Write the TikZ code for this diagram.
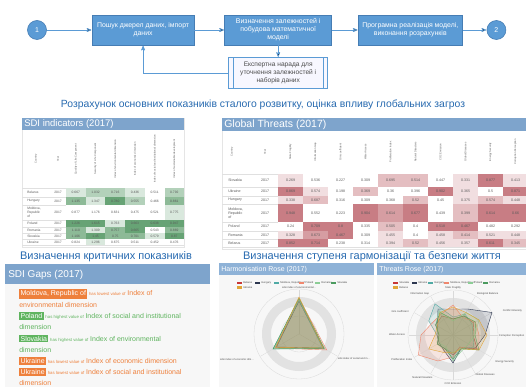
\documentclass[tikz,border=0pt]{standalone}
\usepackage{fontspec}
\setmainfont{Liberation Sans}
\usetikzlibrary{arrows,positioning}

\definecolor{flowblue}{RGB}{91,155,213}
\definecolor{flowedge}{RGB}{70,125,180}
\definecolor{headblue}{RGB}{38,105,175}
\definecolor{barblue}{RGB}{126,164,204}
\definecolor{barlight}{RGB}{142,178,215}
\definecolor{sdigreen}{RGB}{90,155,105}
\definecolor{threatred}{RGB}{190,100,108}
\definecolor{gaplow}{RGB}{238,128,60}
\definecolor{gaphigh}{RGB}{95,180,95}
\definecolor{panelbg}{RGB}{247,247,247}
\definecolor{ringgrey}{RGB}{226,226,226}
\definecolor{celltext}{RGB}{90,90,90}
\definecolor{pal1}{RGB}{200,55,55}
\definecolor{pal2}{RGB}{45,55,80}
\definecolor{pal3}{RGB}{80,170,165}
\definecolor{pal4}{RGB}{240,135,110}
\definecolor{pal5}{RGB}{140,205,150}
\definecolor{pal6}{RGB}{75,155,95}
\definecolor{pal7}{RGB}{225,165,55}

\begin{document}
\begin{tikzpicture}[x=1pt,y=-1pt,>=stealth',shorten >=0.5pt,auto,node distance=30pt,semithick]
\tikzstyle{flowbox}=[shape=rectangle,fill=flowblue,draw=flowedge,text=white,minimum height=30pt,align=center,inner sep=0.5pt,font=\fontsize{6.9}{8}\selectfont]
\tikzstyle{flowdot}=[shape=circle,fill=flowblue,draw=flowedge,text=white,minimum size=19pt,inner sep=0pt,font=\fontsize{7}{8}\selectfont]
\tikzstyle{expertbox}=[shape=rectangle,fill=blue!3,draw=flowblue,text=black!70,minimum height=31pt,align=center,inner sep=0.5pt,font=\fontsize{6.6}{7.8}\selectfont]
\tikzstyle{flowline}=[draw=flowblue,line width=0.7pt]
\tikzstyle{heading}=[text=headblue,font=\fontsize{11}{12}\selectfont]
\tikzstyle{headtext}=[anchor=west,text=white,inner sep=0pt]
\tikzstyle{colhead}=[rotate=90,text=celltext,inner sep=0pt,font=\fontsize{2.6}{3}\selectfont]
\tikzstyle{rowname}=[anchor=west,align=left,text=celltext,inner sep=0pt,font=\fontsize{3.3}{3.8}\selectfont]
\tikzstyle{cellnum}=[text=celltext,inner sep=0pt,font=\fontsize{3.3}{3.8}\selectfont]
\tikzstyle{rowrule}=[draw=black!12,line width=0.3pt]
\tikzstyle{gaptag}=[anchor=west,text=white,inner sep=1.3pt,font=\fontsize{7}{8}\selectfont]
\tikzstyle{gapnote}=[inner sep=0pt,font=\fontsize{4.3}{5}\selectfont]
\tikzstyle{gaptext}=[inner sep=0pt,font=\fontsize{7}{8}\selectfont]
\tikzstyle{roseline}=[draw=black!15,line width=0.3pt]
\tikzstyle{roselabel}=[text=black!70,inner sep=0pt,font=\fontsize{2.6}{3}\selectfont]
\tikzstyle{legendtext}=[anchor=west,text=black!70,inner sep=0pt,font=\fontsize{2.6}{3}\selectfont]
\useasboundingbox (0,0) rectangle (526,387);

% process chain
\node[flowdot] (one) at (37,30) {1};
\node[flowbox,minimum width=102pt] (search) [right=45pt of one] {Пошук джерел даних, імпорт\\даних};
\node[flowbox,minimum width=107pt] (model) [right=30pt of search] {Визначення залежностей і\\побудова математичної\\моделі};
\node[flowbox,minimum width=104pt] (impl) [right=26pt of model] {Програмна реалізація моделі,\\виконання розрахунків};
\node[flowdot] (two) [right=24pt of impl] {2};
\node[expertbox,minimum width=99pt] (expert) [below=12pt of model] {Експертна нарада для\\уточнення залежностей і\\наборів даних};
\draw[flowblue,line width=0.4pt] ([xshift=5pt]expert.north west) -- ([xshift=5pt]expert.south west)
	([xshift=-5pt]expert.north east) -- ([xshift=-5pt]expert.south east);
\path[->,flowline] (one) edge (search)
	(search) edge (model)
	(model) edge (impl)
	(impl) edge (two)
	(model) edge (expert);
\draw[->,flowline] (expert.west) -| (search.south);

\node[heading,font=\fontsize{10.4}{12}\selectfont] (calc) at (263,105) {Розрахунок основних показників сталого розвитку, оцінка впливу глобальних загроз};
\node[heading] (crit) at (106,257) {Визначення критичних показників};
\node[heading] (harm) at (372,257) {Визначення ступеня гармонізації та безпеки життя};

% SDI indicators
\fill[white] (22,118) rectangle (184,247);
\draw[black!10,line width=0.3pt] (22,118) rectangle (184,247);
\fill[barblue] (22,118) rectangle (184,130);
\node[headtext,font=\fontsize{9.5}{10}\selectfont] (sditab) at (24,124.5) {SDI indicators (2017)};
\node[colhead] at (36,159) {Country};
\node[colhead] at (58,159) {Year};
\foreach \lbl [count=\c] in {Quality of Life Component,Security of Life Component,Index of environmental dimension,Index of economic dimension,Index of social and institutional dimension,Index of sustainable development}
	\node[colhead] at ({66+(\c-0.5)*19.7},159) {\lbl};
\draw[rowrule] (22,188) -- (184,188);
\foreach \cname/\ytop/\ybot/\vals in {
	Belarus/188/197/{0.667/1,1.032/2,0.716/2,0.436/1,0.511/0,0.792/2},
	Hungary/197/205/{1.135/3,1.347/1,0.780/4,0.555/2,0.466/0,0.861/3},
	{Moldova,\\Republic\\of}/205/220/{0.877/0,1.176/0,0.631/0,0.475/0,0.521/0,0.775/1},
	Poland/220/227/{1.226/4,1.615/4,0.763/1,0.663/4,0.638/4,0.947/4},
	Romania/227/233/{1.110/3,1.309/1,0.757/3,0.665/4,0.543/0,0.869/3},
	Slovakia/233/239/{1.106/3,1.45/4,0.75/3,0.701/3,0.579/1,0.87/4},
	Ukraine/239/245/{0.824/0,1.296/1,0.675/0,0.511/0,0.452/0,0.476/0}}{
	\node[rowname] at (27,{(\ytop+\ybot)/2}) {\cname};
	\node[cellnum] at (58,{(\ytop+\ybot)/2}) {2017};
	\foreach \v/\l [count=\c] in \vals {
		\pgfmathsetmacro\pct{23*\l}
		\fill[sdigreen!\pct!white] ({66+(\c-1)*19.7},\ytop) rectangle ({66+\c*19.7},\ybot);
		\node[cellnum] at ({66+(\c-0.5)*19.7},{(\ytop+\ybot)/2}) {\v};
	}
	\draw[rowrule] (22,\ybot) -- (184,\ybot);
}

% Global threats
\fill[white] (222,118) rectangle (530,249);
\draw[black!10,line width=0.3pt] (222,118) rectangle (530,249);
\fill[barblue] (222,118) rectangle (530,131);
\node[headtext,font=\fontsize{10.5}{11}\selectfont] (threattab) at (224,125) {Global Threats (2017)};
\node[colhead] at (232,152) {Country};
\node[colhead] at (265,152) {Year};
\foreach \lbl [count=\c] in {State Fragility,Information Gap,Gini coefficient,Water Access,Proliferation Index,Natural Disasters,CO2 Emission,Global Diseases,Energy Security,Corruption Perception}
	\node[colhead] at ({278+(\c-0.5)*25},152) {\lbl};
\draw[rowrule] (222,174) -- (530,174);
\foreach \cname/\ytop/\ybot/\vals in {
	Slovakia/174/187/{0.269/1,0.536/0,0.227/0,0.309/0,0.695/2,0.514/2,0.447/0,0.331/1,0.877/4,0.413/1},
	Ukraine/187/196/{0.869/4,0.574/1,0.198/0,0.369/2,0.36/0,0.396/0,0.902/4,0.365/1,0.5/0,0.871/4},
	Hungary/196/204/{0.338/1,0.687/2,0.316/0,0.309/0,0.368/0,0.52/2,0.45/0,0.375/1,0.574/2,0.448/1},
	{Moldova,\\Republic\\of}/204/222/{0.948/4,0.552/0,0.223/0,0.904/4,0.614/3,0.677/4,0.439/0,0.399/2,0.614/4,0.66/4},
	Poland/222/231/{0.24/0,0.709/4,0.8/4,0.335/0,0.505/2,0.4/0,0.518/4,0.467/4,0.482/0,0.292/0},
	Romania/231/239/{0.328/1,0.673/3,0.467/4,0.309/0,0.455/1,0.4/0,0.458/1,0.414/2,0.521/1,0.448/1},
	Belarus/239/247/{0.852/4,0.714/4,0.238/0,0.314/0,0.394/1,0.52/2,0.456/1,0.357/1,0.611/4,0.345/2}}{
	\node[rowname,font=\fontsize{3.6}{4.1}\selectfont] at (228,{(\ytop+\ybot)/2}) {\cname};
	\node[cellnum,font=\fontsize{3.6}{4.1}\selectfont] at (265,{(\ytop+\ybot)/2}) {2017};
	\foreach \v/\l [count=\c] in \vals {
		\pgfmathsetmacro\pct{21*\l}
		\fill[threatred!\pct!white] ({278+(\c-1)*25},\ytop) rectangle ({278+\c*25},\ybot);
		\node[cellnum,font=\fontsize{3.6}{4.1}\selectfont] at ({278+(\c-0.5)*25},{(\ytop+\ybot)/2}) {\v};
	}
	\draw[rowrule] (222,\ybot) -- (530,\ybot);
}

% SDI gaps
\fill[panelbg] (5,264) rectangle (210,390);
\fill[barblue] (5,264) rectangle (210,284);
\node[headtext,font=\fontsize{10}{11}\selectfont] (gaps) at (8,274.5) {SDI Gaps (2017)};
\foreach \gapname/\gapcol/\gapkind/\gapa/\gapb/\gapy in {
	{Moldova, Republic of}/gaplow/lowest/Index of/environmental dimension/294,
	Poland/gaphigh/highest/Index of social and institutional/dimension/316,
	Slovakia/gaphigh/highest/Index of environmental/dimension/338.5,
	Ukraine/gaplow/lowest/Index of economic dimension//361,
	Ukraine/gaplow/lowest/Index of social and institutional/dimension/372}{
	\node[gaptag,fill=\gapcol] (tag) at (19,\gapy) {\gapname};
	\node[gapnote,text=\gapcol] (note) [base right=1.2pt of tag] {has \gapkind\ value of};
	\node[gaptext,text=\gapcol] (topic) [base right=1.2pt of note] {\gapa};
	\node[gaptext,text=\gapcol,anchor=west] (rest) at (19,\gapy+11) {\gapb};
}

% harmonisation rose
\fill[panelbg] (219,263) rectangle (374,390);
\fill[barlight] (219,263) rectangle (374,275);
\node[headtext,font=\fontsize{7}{8}\selectfont] (harmrose) at (221,269.3) {Harmonisation Rose (2017)};
\foreach \cname/\xx/\yy [count=\i] in {Belarus/237/283,Hungary/255/283,{Moldova, Republic of}/274/283,Poland/299/283,Romania/315/283,Slovakia/331/283,Ukraine/237/287.5}{
	\fill[pal\i] (\xx,\yy-1.3) rectangle (\xx+5,\yy+1.3);
	\node[legendtext] at (\xx+6,\yy) {\cname};
}
\begin{scope}[shift={(299,334)}]
	\fill[ringgrey,even odd rule] (0,0) circle[radius=37pt] (0,0) circle[radius=28pt];
	\draw[roseline] (0,0) circle[radius=45pt];
	\draw[roseline] (0,0) circle[radius=18pt];
	\foreach \a in {90,210,330}
		\draw[roseline] (0,0) -- (\a:45pt);
	\foreach \ra/\rb/\rc [count=\i] in {35/27/29,33/26/28,34/30/27,36/28/32,35/29/30,36/30/29,37/27/28}
		\draw[pal\i,fill=pal\i,fill opacity=0.14,line width=0.4pt] (90:\ra pt) -- (210:\rb pt) -- (330:\rc pt) -- cycle;
	\node[roselabel] at (90:46pt) {sdsi index of environmental...};
	\node[roselabel] at (202:67pt) {sdsi index of economic dim...};
	\node[roselabel] at (-24:60pt) {sdsi index of social and in...};
\end{scope}

% threats rose
\fill[panelbg] (377,263) rectangle (530,390);
\fill[barlight] (377,263) rectangle (530,275);
\node[headtext,font=\fontsize{7}{8}\selectfont] (threatrose) at (379,269.3) {Threats Rose (2017)};
\foreach \cname/\xx/\yy [count=\i] in {Slovakia/393/283,Ukraine/412/283,Hungary/428/283,{Moldova, Republic of}/444/283,Poland/468/283,Romania/483/283,Belarus/393/287.5}{
	\fill[pal\i] (\xx,\yy-1.3) rectangle (\xx+5,\yy+1.3);
	\node[legendtext] at (\xx+6,\yy) {\cname};
}
\begin{scope}[shift={(453,335)}]
	\fill[ringgrey,even odd rule] (0,0) circle[radius=37pt] (0,0) circle[radius=28pt];
	\draw[roseline] (0,0) circle[radius=45pt];
	\draw[roseline] (0,0) circle[radius=18pt];
	\foreach \a in {0,30,...,330}
		\draw[roseline] (0,0) -- (\a:45pt);
	\foreach \rs [count=\i] in {
		{16,22,24,20,28,14,20,16,18,14,20,22},
		{26,30,45,32,26,16,28,18,16,16,18,30},
		{18,24,22,20,24,16,18,16,18,16,28,36},
		{30,20,26,26,30,14,22,30,40,32,24,24},
		{14,26,30,22,18,18,26,14,16,14,20,28},
		{16,22,26,22,30,16,24,16,18,14,20,26},
		{28,26,30,34,30,16,18,20,28,18,18,26}}{
		\path \foreach \r [count=\k] in \rs {({90-30*(\k-1)}:\r pt) coordinate (q\k)};
		\draw[pal\i,fill=pal\i,fill opacity=0.16,line width=0.4pt] (q1) \foreach \k in {2,...,12} {-- (q\k)} -- cycle;
	}
	\foreach \a/\d/\lbl in {90/47/State Fragility,50/54/Biological Balance,22/64/Conflict Intensity,-27/58/Energy Security,-51/51/Global Diseases,-90/49/CO2 Emission,-126/52/Natural Disasters,-154/57/Proliferation Index,180/56/Water Access,156/58/Gini coefficient,129/53/Information Gap}
		\node[roselabel] at (\a:\d pt) {\lbl};
	\node[roselabel,anchor=east] at (71.5pt,-1pt) {Corruption Perception};
\end{scope}
\end{tikzpicture}
\end{document}
